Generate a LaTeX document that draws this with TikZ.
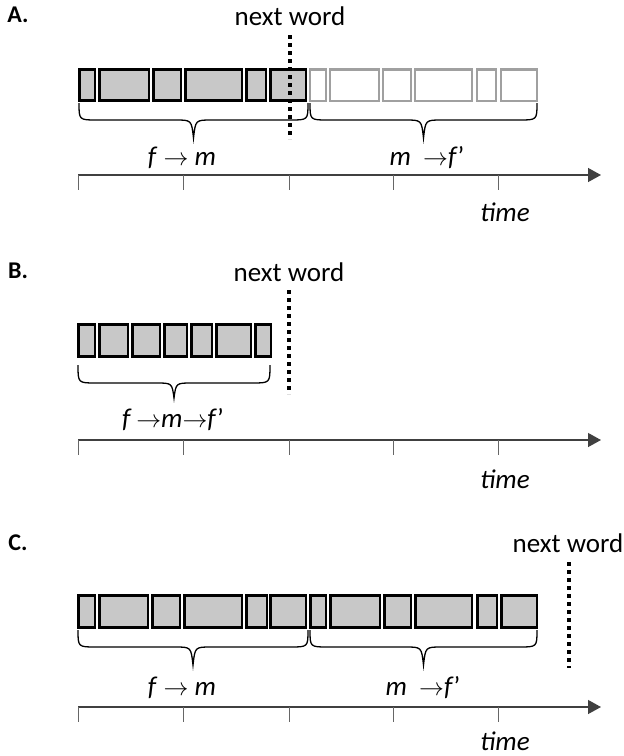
\documentclass[tikz,border=0pt]{standalone}
\usepackage{fontspec}
\setmainfont{Carlito}
\usetikzlibrary{arrows.meta}
\definecolor{boxfill}{HTML}{C8C8C8}
\definecolor{ghost}{HTML}{A0A0A0}
\definecolor{axisgray}{HTML}{404040}
\tikzset{
  full/.style={draw=black, line width=2.6pt, fill=boxfill},
  ghostbox/.style={draw=ghost, line width=2.4pt, fill=white},
  wordline/.style={black, line width=4pt, dash pattern=on 4pt off 4pt},
  axis/.style={axisgray, line width=1.3pt, -{Triangle[length=13pt,width=14pt]}},
  tickmark/.style={axisgray!80, line width=1pt},
  bracepath/.style={black, line width=1.3pt},
  lbl/.style={font=\fontsize{27}{31}\selectfont, inner sep=0pt},
  panel/.style={font=\fontsize{24}{28}\selectfont\bfseries, inner sep=0pt},
}
% curly brace: left x, right x, top y, middle y, tip y, corner reach
\newcommand\curlybrace[6]{%
  \pgfmathsetmacro\bm{(#1+#2)/2}%
  \draw[bracepath] (#1,#3) .. controls (#1,#4) .. (#1+#6,#4) -- (\bm-#6,#4)
    .. controls (\bm-2,#4) .. (\bm,#5) .. controls (\bm+2,#4) .. (\bm+#6,#4)
    -- (#2-#6,#4) .. controls (#2,#4) .. (#2,#3);}
% time axis with ticks at the given height
\newcommand\timeaxis[1]{%
  \draw[axis] (78,#1) -- (601,#1);
  \foreach \t in {78,183,289,393,498}
    \draw[tickmark] (\t,#1) -- (\t,#1+15);}
\begin{document}
\begin{tikzpicture}[x=1pt,y=-1pt]
\useasboundingbox (0,0) rectangle (624,756);

% ---------- A ----------
\node[panel] (pa) at (18,15) {A.};
\foreach \a/\b in {78/96,98/150,152/182,184/243,245/267,269/307}
  \draw[full] (\a+1.2,69.3) rectangle (\b-1.2,100.7);
\foreach \a/\b in {309/327,329/380,382/412,414/473,476/497,500/538}
  \draw[ghostbox] (\a+1.2,69.3) rectangle (\b-1.2,100.7);
\node[lbl, anchor=base] (nwa) at (290,25) {next word};
\draw[wordline] (290,35) -- (290,139);
\curlybrace{79}{308}{103}{120}{138}{18}
\curlybrace{310}{537}{103}{120}{138}{18}
\node[lbl] (la1) at (182,158) {\textit{f} $\rightarrow$ \textit{m}};
\node[lbl] (la2) at (427,158) {\textit{m} \ $\rightarrow$\textit{f}'};
\timeaxis{175}
\node[lbl] (ta) at (505,212) {\textit{time}};

% ---------- B ----------
\node[panel] (pb) at (18,271) {B.};
\foreach \a/\b in {77/96,98/129,131/161,163/188,190/213,215/252,254/272}
  \draw[full] (\a+1.2,324.3) rectangle (\b-1.2,356.7);
\node[lbl, anchor=base] (nwb) at (289,281) {next word};
\draw[wordline] (289,290) -- (289,394);
\curlybrace{78}{270}{365}{383}{398}{18}
\node[lbl] (lb) at (173,420) {\textit{f}\,$\rightarrow$\textit{m}$\rightarrow$\textit{f}'};
\timeaxis{440}
\node[lbl] (tb) at (505,479) {\textit{time}};

% ---------- C ----------
\node[panel] (pc) at (18,543) {C.};
\foreach \a/\b in {77/96,98/149,151/181,183/243,245/268,269/307,
                   309/327,329/381,383/412,414/473,476/498,500/538}
  \draw[full] (\a+1.2,595.3) rectangle (\b-1.2,627.7);
\node[lbl, anchor=base] (nwc) at (568,552) {next word};
\draw[wordline] (569,562) -- (569,668);
\curlybrace{78}{308}{630}{647}{665}{18}
\curlybrace{310}{537}{630}{647}{665}{18}
\node[lbl] (lc1) at (182,688) {\textit{f} $\rightarrow$ \textit{m}};
\node[lbl] (lc2) at (423,688) {\textit{m} \ $\rightarrow$\textit{f}'};
\timeaxis{707}
\node[lbl] (tc) at (505,741) {\textit{time}};
\end{tikzpicture}
\end{document}
